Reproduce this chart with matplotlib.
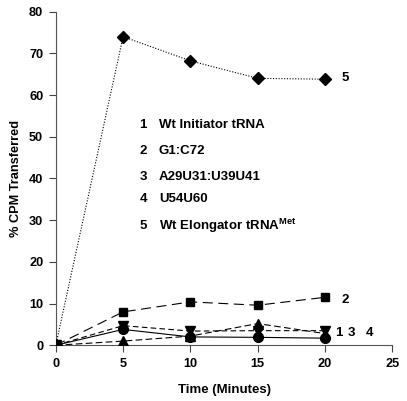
import matplotlib
matplotlib.use("Agg")
import matplotlib.pyplot as plt

plt.rcParams['font.family'] = ['Liberation Sans', 'DejaVu Sans']
plt.rcParams['font.weight'] = 'bold'
plt.rcParams['mathtext.fontset'] = 'custom'
plt.rcParams['mathtext.rm'] = 'Liberation Sans'
plt.rcParams['mathtext.bf'] = 'Liberation Sans:bold'

# data
time_min = [0, 5, 10, 15, 20]
wt_initiator = [0, 3.8, 2.0, 1.9, 1.7]
g1_c72 = [0, 8.0, 10.4, 9.6, 11.5]
a29u31_u39u41 = [0, 1.0, 2.2, 5.2, 2.8]
u54u60 = [0, 4.7, 3.4, 3.5, 3.5]
wt_elongator = [0, 74.0, 68.2, 64.0, 63.8]

series_names = ["Wt Initiator tRNA", "G1:C72", "A29U31:U39U41", "U54U60",
                r"Wt Elongator tRNA$^{\mathbf{Met}}$"]

fig = plt.figure(figsize=(4.07, 4.01), dpi=100)
ax = fig.add_axes([0.137, 0.139, 0.827, 0.832])

lw = 0.8
ax.plot(time_min, a29u31_u39u41, color='black', lw=lw, ls=(0, (6, 3)),
        marker='^', ms=6.5, zorder=3)
ax.plot(time_min, u54u60, color='black', lw=lw, ls=(0, (5, 3)),
        marker='v', ms=6.5, zorder=3)
ax.plot(time_min, wt_initiator, color='black', lw=lw, ls='-',
        marker='o', ms=7, zorder=4)
ax.plot(time_min, g1_c72, color='black', lw=lw, ls=(0, (9, 5)),
        marker='s', ms=6, zorder=3)
ax.plot(time_min, wt_elongator, color='black', lw=lw, ls=(0, (1, 1.5)),
        marker='D', ms=6.5, zorder=3)

# end-of-line labels
fs = 9.5
ax.text(21.5, 64.1, "5", fontsize=fs, va='center', ha='center')
ax.text(21.5, 10.9, "2", fontsize=fs, va='center', ha='center')
ax.text(21.0, 3.0, "1", fontsize=fs, va='center', ha='center')
ax.text(21.95, 3.0, "3", fontsize=fs, va='center', ha='center')
ax.text(23.3, 3.0, "4", fontsize=fs, va='center', ha='center')

# key text
key_y = [52.8, 46.7, 40.4, 35.1, 28.6]
for i, (name, yy) in enumerate(zip(series_names, key_y)):
    ax.text(6.48, yy, str(i + 1), fontsize=fs, va='center', ha='center')
    ax.text(7.66, yy, name, fontsize=fs, va='center', ha='left')

ax.set_xlim(0, 25)
ax.set_ylim(0, 80)
ax.set_xticks([0, 5, 10, 15, 20, 25])
ax.set_yticks(range(0, 81, 10))
ax.tick_params(labelsize=9.2, length=5, width=0.8, colors='#444444',
               labelcolor='black', pad=4)
for s in ['top', 'right']:
    ax.spines[s].set_visible(False)
for s in ['left', 'bottom']:
    ax.spines[s].set_color('#555555')
    ax.spines[s].set_linewidth(0.8)
ax.set_xlabel("Time (Minutes)", fontsize=fs, fontweight='bold', labelpad=10)
ax.set_ylabel("% CPM Transferred", fontsize=9.2, fontweight='bold', labelpad=5)

fig.savefig("out.png", dpi=100)
